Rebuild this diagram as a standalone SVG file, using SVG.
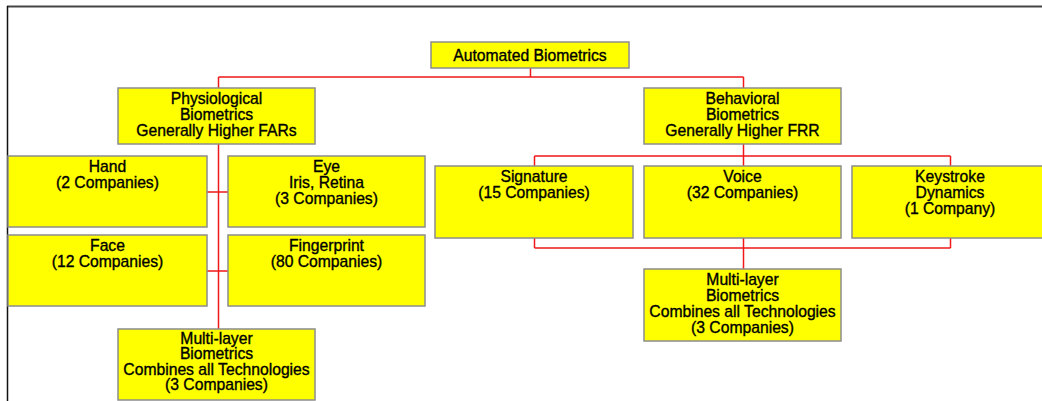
<svg xmlns="http://www.w3.org/2000/svg" width="1042" height="401" viewBox="0 0 1042 401">
<style>
.box{fill:#ffff00;stroke:#8c8c8c;stroke-width:1.5}
.t{font-family:"Liberation Sans",Arial,sans-serif;font-size:15.7px;fill:#000;stroke:#000;stroke-width:0.35;text-anchor:middle}
.c{fill:none;stroke:#f01818;stroke-width:1.5}
</style>
<rect x="0" y="0" width="1042" height="401" fill="#ffffff"/>
<g id="frame">
<line x1="7" y1="6.5" x2="1042" y2="6.5" stroke="#444" stroke-width="2"/>
<line x1="7.5" y1="6" x2="7.5" y2="401" stroke="#111" stroke-width="1.5"/>
</g>
<g id="connectors" class="c">
<path d="M530.5,68V77M218.5,77H743.5M218.5,77V88M743.5,77V88"/>
<path d="M218.5,144V329M207,192H228M207,271H228"/>
<path d="M743.5,144V156M534.5,156H950.5M534.5,156V166M743.5,156V166M950.5,156V166"/>
<path d="M534.5,238V248M743.5,238V248M950.5,238V248M534.5,248H950.5M743.5,248V269"/>
</g>
<g id="root"><rect class="box" x="431" y="42" width="198" height="26"/><text class="t" x="530" y="60.5">Automated Biometrics</text></g>
<g id="physiological"><rect class="box" x="118" y="88" width="197" height="56"/>
<text class="t" x="216.5" y="103.5">Physiological</text><text class="t" x="216.5" y="119.5">Biometrics</text><text class="t" x="216.5" y="135.5">Generally Higher FARs</text></g>
<g id="behavioral"><rect class="box" x="644" y="88" width="197" height="56"/>
<text class="t" x="742.5" y="103.5">Behavioral</text><text class="t" x="742.5" y="119.5">Biometrics</text><text class="t" x="742.5" y="135.5">Generally Higher FRR</text></g>
<g id="hand"><rect class="box" x="8" y="156" width="199" height="71"/>
<text class="t" x="107.5" y="171.5">Hand</text><text class="t" x="107.5" y="187.5">(2 Companies)</text></g>
<g id="eye"><rect class="box" x="228" y="156" width="197" height="71"/>
<text class="t" x="326.5" y="171.5">Eye</text><text class="t" x="326.5" y="187.5">Iris, Retina</text><text class="t" x="326.5" y="203.5">(3 Companies)</text></g>
<g id="face"><rect class="box" x="8" y="235" width="199" height="71"/>
<text class="t" x="107.5" y="250.5">Face</text><text class="t" x="107.5" y="266.5">(12 Companies)</text></g>
<g id="fingerprint"><rect class="box" x="228" y="235" width="197" height="71"/>
<text class="t" x="326.5" y="250.5">Fingerprint</text><text class="t" x="326.5" y="266.5">(80 Companies)</text></g>
<g id="multilayer-left"><rect class="box" x="118" y="329" width="197" height="71"/>
<text class="t" x="216.5" y="343.5">Multi-layer</text><text class="t" x="216.5" y="359">Biometrics</text><text class="t" x="216.5" y="374.5">Combines all Technologies</text><text class="t" x="216.5" y="390">(3 Companies)</text></g>
<g id="signature"><rect class="box" x="435" y="166" width="198" height="72"/>
<text class="t" x="534" y="181.5">Signature</text><text class="t" x="534" y="197.5">(15 Companies)</text></g>
<g id="voice"><rect class="box" x="644" y="166" width="197" height="72"/>
<text class="t" x="742.5" y="181.5">Voice</text><text class="t" x="742.5" y="197.5">(32 Companies)</text></g>
<g id="keystroke"><rect class="box" x="852" y="166" width="197" height="72"/>
<text class="t" x="950" y="181.5">Keystroke</text><text class="t" x="950" y="197.5">Dynamics</text><text class="t" x="950" y="213.5">(1 Company)</text></g>
<g id="multilayer-right"><rect class="box" x="644" y="269" width="197" height="72"/>
<text class="t" x="742.5" y="284.5">Multi-layer</text><text class="t" x="742.5" y="300.5">Biometrics</text><text class="t" x="742.5" y="316.5">Combines all Technologies</text><text class="t" x="742.5" y="332.5">(3 Companies)</text></g>
</svg>
